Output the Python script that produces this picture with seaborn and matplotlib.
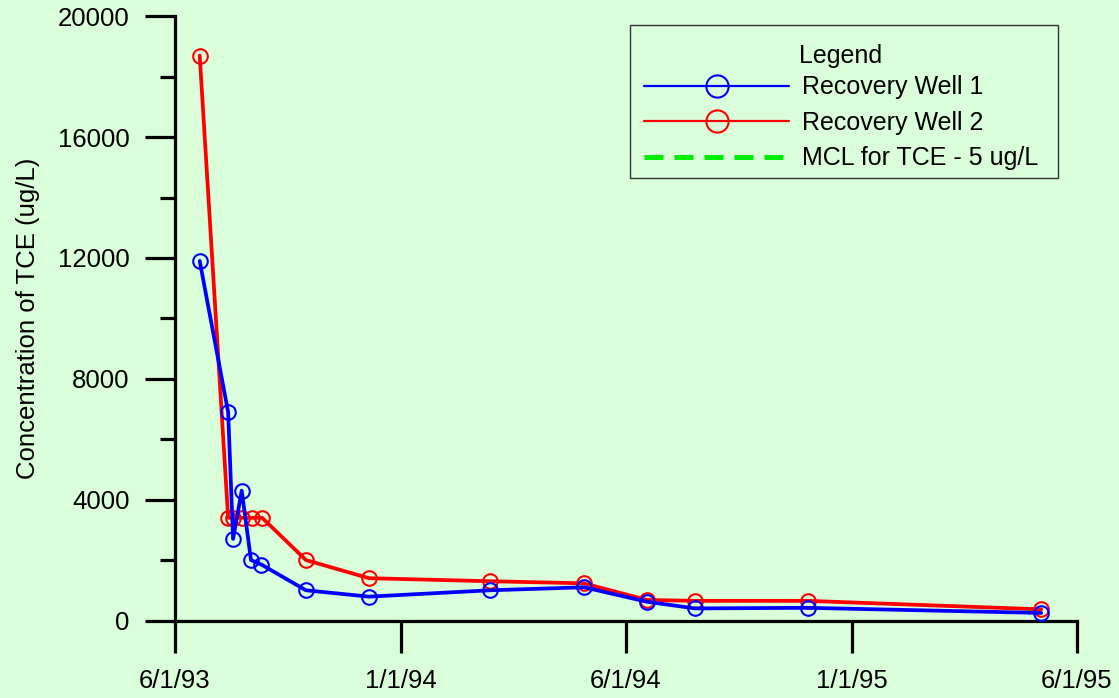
import matplotlib
matplotlib.use("Agg")
import matplotlib.pyplot as plt
import seaborn as sns
import numpy as np
import pandas as pd
from matplotlib.lines import Line2D
from matplotlib.patches import Rectangle
from matplotlib.ticker import MultipleLocator, FixedLocator

# ---- data (x = days after 6/1/93 on the chart's uniform half-year axis) ----
well1_days = [20, 43, 47, 54, 61.5, 70, 106, 157, 255, 331, 382, 421, 512, 701]
well1_tce = [11900, 6900, 2700, 4300, 2000, 1850, 1000, 790, 1000, 1100, 620, 400, 420, 250]
well2_days = [20, 43, 47, 54.5, 62.5, 70.5, 106, 157, 255, 331, 382, 421, 512, 701]
well2_tce = [18700, 3400, 3400, 3400, 3400, 3400, 2000, 1400, 1300, 1230, 680, 650, 650, 370]
mcl_days = [0, 730]
mcl_tce = [5, 5]
tick_days = [0, 182.5, 365, 547.5, 730]
tick_labels = ["6/1/93", "1/1/94", "6/1/94", "1/1/95", "6/1/95"]
series_names = ["Recovery Well 1", "Recovery Well 2", "MCL for TCE - 5 ug/L"]

BG = "#dafdda"
BLUE = "#0000ff"
RED = "#ff0000"
GREEN = "#00ee00"
FS = 18.5
LFS = 18
W, H = 1119, 698

sns.set_style("white")
plt.rcParams["font.family"] = ["Liberation Sans", "DejaVu Sans"]
plt.rcParams["text.color"] = "black"
plt.rcParams["axes.labelcolor"] = "black"
plt.rcParams["xtick.color"] = "black"
plt.rcParams["ytick.color"] = "black"

fig = plt.figure(figsize=(W / 100, H / 100), dpi=100, facecolor=BG)
ax = fig.add_axes([175 / W, 77.5 / H, 902 / W, 604.2 / H])
ax.set_facecolor(BG)

df1 = pd.DataFrame({"days": well1_days, "tce": well1_tce})
df2 = pd.DataFrame({"days": well2_days, "tce": well2_tce})
dfm = pd.DataFrame({"days": mcl_days, "tce": mcl_tce})

sns.lineplot(data=dfm, x="days", y="tce", ax=ax, color=GREEN, lw=0.8,
             linestyle=(0, (4, 2)), estimator=None, sort=False, zorder=0.5)
sns.lineplot(data=df2, x="days", y="tce", ax=ax, color=RED, lw=2.7,
             marker="o", ms=10.5, mfc="none", mec=RED, mew=1.5,
             estimator=None, sort=False, zorder=3)
sns.lineplot(data=df1, x="days", y="tce", ax=ax, color=BLUE, lw=2.7,
             marker="o", ms=10.5, mfc="none", mec=BLUE, mew=1.5,
             estimator=None, sort=False, zorder=3)

ax.set_xlim(0, 730)
ax.set_ylim(0, 20000)
ax.xaxis.set_major_locator(FixedLocator(tick_days))
ax.set_xticklabels(tick_labels)
ax.yaxis.set_major_locator(MultipleLocator(4000))
ax.yaxis.set_minor_locator(MultipleLocator(2000))

for s in ["top", "right"]:
    ax.spines[s].set_visible(False)
for s in ["left", "bottom"]:
    ax.spines[s].set_linewidth(2.3)
    ax.spines[s].set_color("black")
    ax.spines[s].set_zorder(2.5)

ax.tick_params(axis="y", which="major", direction="out", length=21.6, width=2.3,
               labelsize=FS, pad=11, left=True, color="black")
ax.tick_params(axis="y", which="minor", direction="out", length=10.8, width=2.3,
               left=True, color="black")
ax.tick_params(axis="x", which="major", direction="out", length=23, width=2.3,
               labelsize=FS, pad=12, bottom=True, color="black")

ax.set_xlabel("")
ax.set_ylabel("Concentration of TCE (ug/L)", fontsize=FS, labelpad=13)

# legend frame drawn by hand so its padding matches the reference
frame = Rectangle((630 / W, 1 - 178 / H), 428 / W, 153 / H, transform=fig.transFigure,
                  facecolor=BG, edgecolor="#333333", lw=1.0, zorder=4.5, clip_on=False)
ax.add_patch(frame)

handles = [
    Line2D([], [], color=BLUE, lw=1.6, marker="o", ms=16, mfc="none", mec=BLUE, mew=1.5),
    Line2D([], [], color=RED, lw=1.6, marker="o", ms=16, mfc="none", mec=RED, mew=1.5),
    Line2D([], [], color=GREEN, lw=3.6, linestyle=(0, (3.8, 2.2))),
]
leg = ax.legend(handles, series_names, title="Legend", loc="upper left",
                bbox_to_anchor=(644 / W, 1 - 44.5 / H), bbox_transform=fig.transFigure,
                fontsize=LFS, title_fontsize=LFS, frameon=False,
                handlelength=5.8, handletextpad=0.5, labelspacing=0.46,
                borderpad=0, borderaxespad=0)
leg.set_zorder(5)
leg._legend_box.sep = 5

fig.savefig("out.png", dpi=100, facecolor=BG)
